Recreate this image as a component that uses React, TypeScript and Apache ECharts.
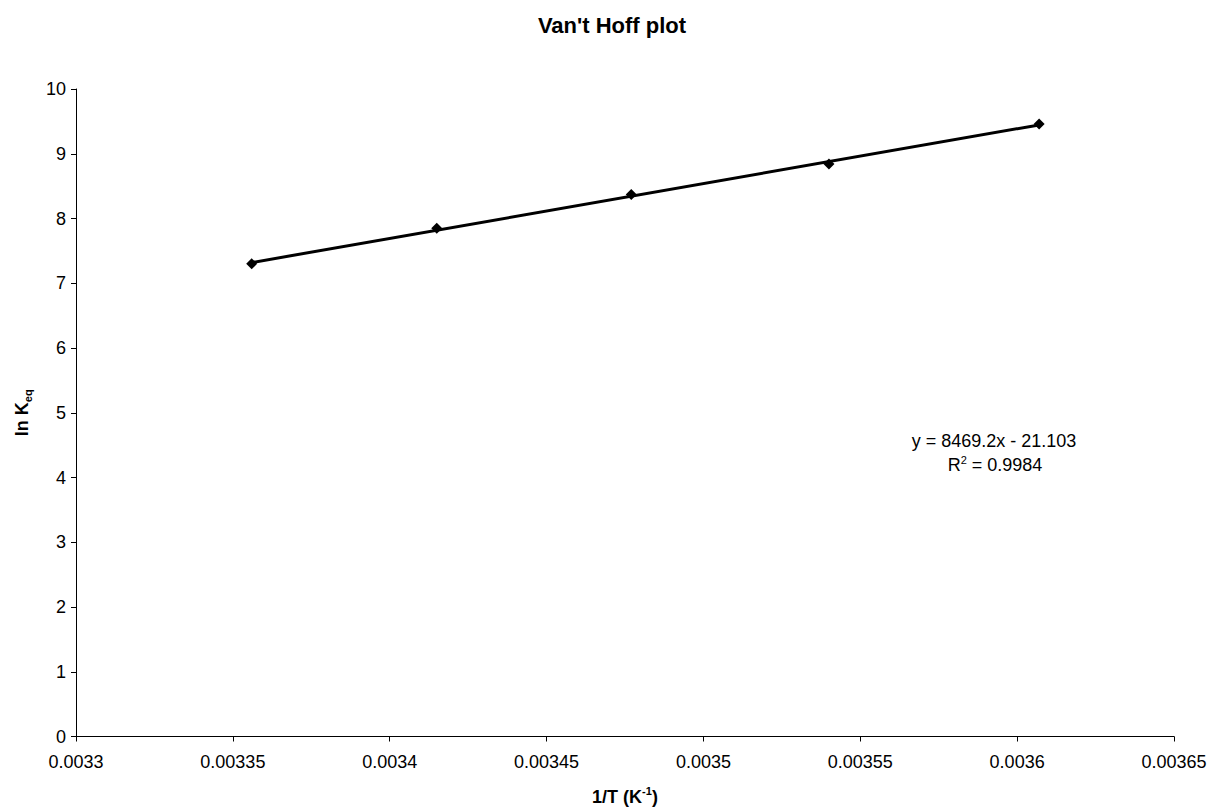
import React, { useEffect, useRef } from "react";
import * as echarts from "echarts";

// Data
const invT: number[] = [0.003356, 0.003415, 0.003477, 0.00354, 0.003607];
const lnK: number[] = [7.3, 7.85, 8.37, 8.84, 9.46];

// Linear trendline (as printed on the chart)
const slope = 8469.2;
const intercept = -21.103;
const rSquared = 0.9984;

const xMin = 0.0033;
const xMax = 0.00365;
const xStep = 0.00005;
const yMin = 0;
const yMax = 10;
const yStep = 1;

const FONT = "'Liberation Sans', Arial, Helvetica, sans-serif";

export default function App() {
  const ref = useRef<HTMLDivElement>(null);

  useEffect(() => {
    if (!ref.current) return;
    const chart = echarts.init(ref.current, undefined, { renderer: "svg" });

    const xs = [Math.min(...invT), Math.max(...invT)];
    const trend = xs.map((x) => [x, slope * x + intercept]);

    const option: any = {
      animation: false,
      backgroundColor: "#ffffff",
      textStyle: { fontFamily: FONT },
      title: {
        text: "Van't Hoff plot",
        left: 607,
        textAlign: "center",
        top: 9,
        textStyle: { fontFamily: FONT, fontSize: 22, fontWeight: "bold", color: "#000" },
      },
      grid: { left: 76, right: 36, top: 89, bottom: 74.5, containLabel: false },
      xAxis: {
        type: "value",
        min: xMin,
        max: xMax,
        interval: xStep,
        name: "{a|1/T (K}{s|-1}{a|)}",
        nameLocation: "middle",
        nameGap: 49,
        nameTextStyle: {
          rich: {
            a: { fontFamily: FONT, fontSize: 18, fontWeight: "bold", color: "#000", lineHeight: 22 },
            s: { fontFamily: FONT, fontSize: 11, fontWeight: "bold", color: "#000", verticalAlign: "top", lineHeight: 12 },
          },
        },
        axisLine: { show: true, onZero: false, lineStyle: { color: "#000", width: 1 } },
        axisTick: { show: true, length: 5, inside: false, lineStyle: { color: "#000" } },
        axisLabel: {
          fontFamily: FONT,
          fontSize: 18,
          color: "#000",
          margin: 16,
          formatter: (v: number) => String(parseFloat(v.toPrecision(6))),
        },
        splitLine: { show: false },
      },
      yAxis: {
        type: "value",
        min: yMin,
        max: yMax,
        interval: yStep,
        name: "{a|ln K}{b|eq}",
        nameLocation: "middle",
        nameRotate: 90,
        nameGap: 43,
        nameTextStyle: {
          rich: {
            a: { fontFamily: FONT, fontSize: 18, fontWeight: "bold", color: "#000", lineHeight: 22 },
            b: { fontFamily: FONT, fontSize: 11, fontWeight: "bold", color: "#000", verticalAlign: "bottom", lineHeight: 12 },
          },
        },
        axisLine: { show: true, lineStyle: { color: "#000", width: 1 } },
        axisTick: { show: true, length: 5, inside: false, lineStyle: { color: "#000" } },
        axisLabel: { fontFamily: FONT, fontSize: 18, color: "#000", margin: 10 },
        splitLine: { show: false },
      },
      series: [
        {
          type: "line",
          name: "trend",
          data: trend,
          symbol: "none",
          lineStyle: { color: "#000", width: 3 },
          z: 2,
        },
        {
          type: "scatter",
          name: "ln Keq",
          data: invT.map((x, i) => [x, lnK[i]]),
          symbol: "diamond",
          symbolSize: [11, 11],
          itemStyle: { color: "#000", opacity: 1 },
          z: 3,
        },
      ],
      graphic: [
        {
          type: "text",
          x: 994,
          y: 441,
          style: {
            text: `y = ${slope}x - ${Math.abs(intercept)}`,
            fontFamily: FONT,
            fontSize: 18,
            fill: "#000",
            align: "center",
            verticalAlign: "middle",
          },
        },
        {
          type: "text",
          x: 995,
          y: 465,
          style: {
            text: `{r|R}{s|2}{r| = ${rSquared}}`,
            fontFamily: FONT,
            fontSize: 18,
            fill: "#000",
            align: "center",
            verticalAlign: "middle",
            rich: {
              r: { fontFamily: FONT, fontSize: 18, fill: "#000", lineHeight: 22 },
              s: { fontFamily: FONT, fontSize: 11, fill: "#000", verticalAlign: "top", lineHeight: 12 },
            },
          },
        },
      ],
    };

    chart.setOption(option);
    return () => chart.dispose();
  }, []);

  return (
    <div
      ref={ref}
      style={{ position: "absolute", left: 0, top: 0, width: 1210, height: 811, background: "#fff" }}
    />
  );
}
